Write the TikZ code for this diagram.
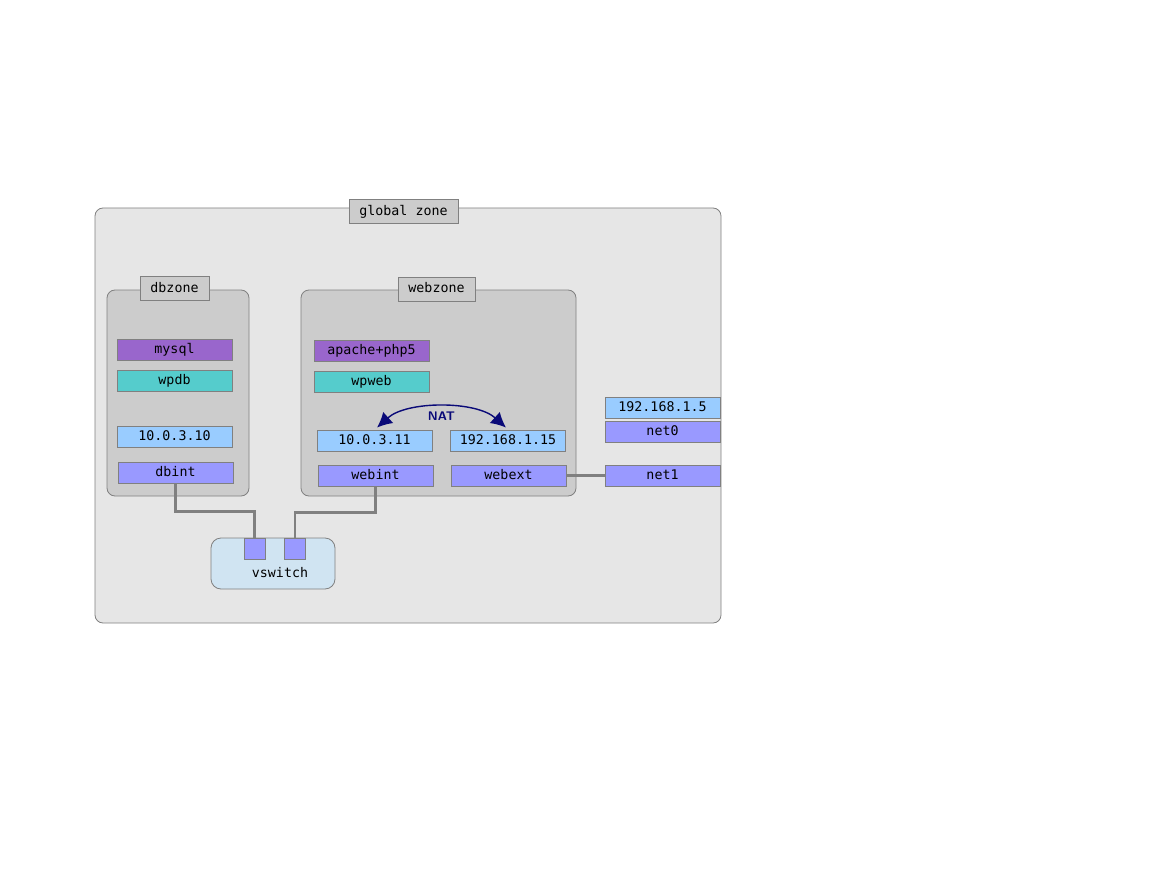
\documentclass[tikz,border=0pt]{standalone}
\usepackage{fontspec}
\setmonofont{DejaVu Sans Mono}
\usetikzlibrary{arrows.meta,calc}
\definecolor{globalfill}{HTML}{E6E6E6}
\definecolor{zonefill}{HTML}{CCCCCC}
\definecolor{edge}{HTML}{808080}
\definecolor{svc}{HTML}{9966CC}
\definecolor{app}{HTML}{55CCCC}
\definecolor{addr}{HTML}{99CCFF}
\definecolor{nic}{HTML}{9999FF}
\definecolor{swfill}{HTML}{D0E4F2}
\definecolor{natcol}{HTML}{0A0A78}
\tikzset{
  txt/.style={font=\ttfamily\fontsize{13.3}{16}\selectfont, text=black, text height=9.5pt, text depth=2.5pt},
  zone/.style={draw=edge, line width=0.8pt, rounded corners=8pt, inner sep=0pt},
  tag/.style={txt, draw=edge, line width=0.8pt, fill=zonefill, inner sep=0pt, minimum height=24pt},
  cell/.style={txt, draw=edge, line width=0.8pt, inner sep=0pt, minimum width=115pt, minimum height=21pt},
  port/.style={draw=edge, line width=0.8pt, fill=nic, inner sep=0pt, minimum width=21pt, minimum height=21pt},
  wire/.style={draw=edge, line width=2.2pt},
  nat/.style={draw=natcol, line width=1.4pt, {Latex[length=15pt,width=15pt]}-{Latex[length=15pt,width=15pt]}},
}
\begin{document}
\begin{tikzpicture}[x=1pt,y=-1pt]
\useasboundingbox (0,0) rectangle (1155,893);

% containers
\node[zone, fill=globalfill, minimum width=626pt, minimum height=415pt] (global) at (408,415.5) {};
\node[zone, fill=zonefill, minimum width=142pt, minimum height=206pt] (dbzone) at (178,393) {};
\node[zone, fill=zonefill, minimum width=275pt, minimum height=206pt] (webzone) at (438.5,393) {};

% zone titles
\node[tag, minimum width=109pt] (globaltag) at (403.5,211.5) {global zone};
\node[tag, minimum width=69pt] (dbtag) at (174.5,288.5) {dbzone};
\node[tag, minimum width=77pt] (webtag) at (436.5,289) {webzone};

% dbzone contents
\node[cell, fill=svc] (mysql) at (174.5,349.5) {mysql};
\node[cell, fill=app] (wpdb) at (174.5,380.5) {wpdb};
\node[cell, fill=addr] (ip10) at (174.5,436.5) {10.0.3.10};
\node[cell, fill=nic] (dbint) at (175.5,472.5) {dbint};

% webzone contents
\node[cell, fill=svc] (apache) at (371.5,350.5) {apache+php5};
\node[cell, fill=app] (wpweb) at (371.5,381.5) {wpweb};
\node[cell, fill=addr] (ip11) at (374.5,440.5) {10.0.3.11};
\node[cell, fill=addr] (ip15) at (508,440.5) {192.168.1.15};
\node[cell, fill=nic] (webint) at (375.5,475.5) {webint};
\node[cell, fill=nic] (webext) at (508.5,475.5) {webext};

% physical interfaces
\node[cell, fill=addr] (ip5) at (662.5,407.5) {192.168.1.5};
\node[cell, fill=nic] (net0) at (662.5,431.5) {net0};
\node[cell, fill=nic] (net1) at (662.5,475.5) {net1};

% virtual switch
\node[zone, fill=swfill, rounded corners=10pt, minimum width=124pt, minimum height=51pt] (vswitch) at (273,563.5) {};
\node[port] (p1) at (254.5,548.5) {};
\node[port] (p2) at (295,548.5) {};
\node[txt] (vswlabel) at (280,574) {vswitch};

% links
\draw[wire] (dbint.south) -- ++(0,28) -| (p1.north);
\draw[wire] (webint.south) -- ++(0,26) -| (p2.north);
\draw[wire] (webext.east) -- (net1.west);

% address translation
\draw[nat] ([xshift=2.5pt,yshift=2pt]ip11.north) .. controls +(30,-27) and +(-30,-27) .. ([xshift=-2pt,yshift=2pt]ip15.north);
\node[txt, text=natcol, font=\sffamily\bfseries\fontsize{12.5}{14}\selectfont] (natlabel) at (441.5,417) {NAT};
\end{tikzpicture}
\end{document}
